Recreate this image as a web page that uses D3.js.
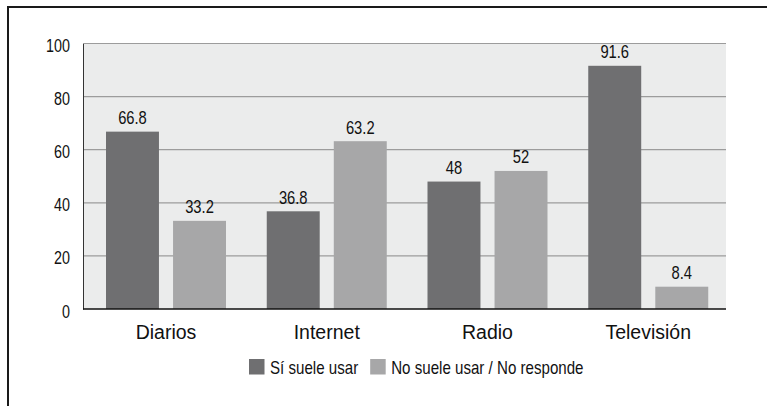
<!DOCTYPE html>
<html>
<head>
<meta charset="utf-8">
<script src="https://cdn.jsdelivr.net/npm/d3@7/dist/d3.min.js"></script>
<style>
  body { margin: 0; background: #fff; }
  svg { display: block; }
  text { font-family: "Liberation Sans", Arial, sans-serif; }
</style>
</head>
<body>
<div id="chart"></div>
<script>
// data
var categories = ["Diarios", "Internet", "Radio", "Televisión"];
var seriesNames = ["Sí suele usar", "No suele usar / No responde"];
var siUsa = [66.8, 36.8, 48, 91.6];
var noUsa = [33.2, 63.2, 52, 8.4];
var yTicks = [0, 20, 40, 60, 80, 100];
var colors = ["#6f6f71", "#a7a7a8"];

// the original uses a condensed face, squeeze regular text sideways
var squeeze = 0.82;

function drawchart() {
    var w = 767;
    var h = 406;
    var left = 83, right = 726, top = 43.5, bottom = 309;

    var svg = d3.select("#chart")
                .append("svg")
                .attr("width", w)
                .attr("height", h);

    // outer frame (cut off at right and bottom)
    svg.append("rect")
       .attr("x", 8)
       .attr("y", 7)
       .attr("width", 900)
       .attr("height", 600)
       .attr("fill", "none")
       .attr("stroke", "#1a1a1a")
       .attr("stroke-width", 2);

    var x0 = d3.scaleBand().domain(categories).range([left, right]).padding(0);
    var x1 = d3.scaleBand().domain([0, 1]).range([23, 143]).paddingInner(0.21);
    var y = d3.scaleLinear().domain([0, 100]).range([bottom, top]);

    // plot background
    svg.append("rect")
       .attr("x", left)
       .attr("y", y(100))
       .attr("width", right - left)
       .attr("height", y(0) - y(100))
       .attr("fill", "#ebecec");

    // gridlines
    svg.append("g")
       .selectAll("line")
       .data(yTicks.filter(function(d) { return d > 0; }))
       .enter()
       .append("line")
       .attr("x1", left)
       .attr("x2", right)
       .attr("y1", function(d) { return y(d); })
       .attr("y2", function(d) { return y(d); })
       .attr("stroke", "#9c9c9c")
       .attr("stroke-width", 1.2);

    // y axis
    var yAxis = d3.axisLeft(y).tickValues(yTicks).tickSize(0).tickPadding(13);
    var ga = svg.append("g")
                .attr("transform", "translate(" + left + ",0)")
                .call(yAxis);
    ga.select(".domain").attr("stroke", "#333").attr("stroke-width", 1);
    ga.selectAll("text")
      .attr("font-family", null)
      .attr("font-size", 17.5)
      .attr("fill", "#111")
      .attr("x", -13 / squeeze)
      .attr("dy", "0.4em")
      .attr("transform", "translate(0,1) scale(" + squeeze + ",1)");

    // bars
    var rows = categories.map(function(c, i) { return [siUsa[i], noUsa[i]]; });
    var groups = svg.append("g")
                    .selectAll("g")
                    .data(rows)
                    .enter()
                    .append("g")
                    .attr("transform", function(d, i) { return "translate(" + x0(categories[i]) + ",0)"; });

    groups.selectAll("rect")
          .data(function(d) { return d; })
          .enter()
          .append("rect")
          .attr("x", function(d, j) { return x1(j); })
          .attr("y", function(d) { return y(d); })
          .attr("width", x1.bandwidth())
          .attr("height", function(d) { return y(0) - y(d); })
          .attr("fill", function(d, j) { return colors[j]; });

    // value labels
    groups.selectAll("text")
          .data(function(d) { return d; })
          .enter()
          .append("text")
          .attr("transform", function(d, j) {
              return "translate(" + (x1(j) + x1.bandwidth() / 2) + "," + (y(d) - 7.5) + ") scale(" + squeeze + ",1)";
          })
          .attr("text-anchor", "middle")
          .attr("font-size", 18)
          .attr("fill", "#111")
          .text(function(d) { return d; });

    // x axis line
    svg.append("line")
       .attr("x1", left)
       .attr("x2", right)
       .attr("y1", y(0))
       .attr("y2", y(0))
       .attr("stroke", "#111")
       .attr("stroke-width", 1.6);

    // category labels
    var mid = (x1.range()[0] + x1.range()[1]) / 2;
    svg.append("g")
       .selectAll("text")
       .data(categories)
       .enter()
       .append("text")
       .attr("x", function(d) { return x0(d) + mid; })
       .attr("y", 339)
       .attr("text-anchor", "middle")
       .attr("font-size", 19.5)
       .attr("fill", "#111")
       .text(function(d) { return d; });

    // legend
    var legSqueeze = 0.84;
    var legend = svg.append("g").attr("transform", "translate(249,359)");
    var lx = 0;
    seriesNames.forEach(function(name, i) {
        legend.append("rect")
              .attr("x", lx)
              .attr("y", 0)
              .attr("width", 15.5)
              .attr("height", 15.5)
              .attr("fill", colors[i]);
        var t = legend.append("text")
                      .attr("transform", "translate(" + (lx + 21) + ",15) scale(" + legSqueeze + ",1)")
                      .attr("font-size", 18)
                      .attr("fill", "#111")
                      .text(name);
        lx += 21 + t.node().getComputedTextLength() * legSqueeze + 12;
    });
}

window.onload = drawchart;
</script>
</body>
</html>
